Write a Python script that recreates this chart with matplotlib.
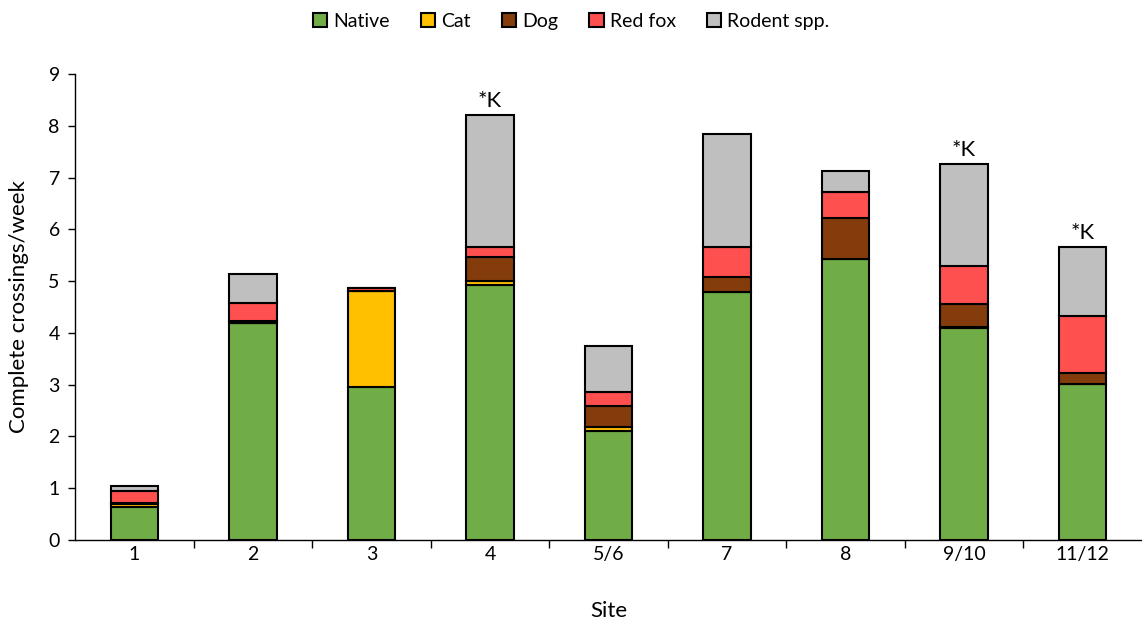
import numpy as np
import matplotlib
matplotlib.use("Agg")
import matplotlib.pyplot as plt
from matplotlib.patches import Patch

plt.rcParams["font.family"] = ["Lato", "DejaVu Sans"]

# ---------- Data ----------
sites = ["1", "2", "3", "4", "5/6", "7", "8", "9/10", "11/12"]
native = [0.64, 4.20, 2.95, 4.93, 2.10, 4.79, 5.42, 4.10, 3.02]
cat = [0.06, 0.00, 1.85, 0.07, 0.09, 0.00, 0.00, 0.02, 0.00]
dog = [0.02, 0.03, 0.00, 0.47, 0.40, 0.29, 0.79, 0.43, 0.21]
red_fox = [0.23, 0.35, 0.06, 0.18, 0.26, 0.57, 0.52, 0.75, 1.09]
rodent = [0.10, 0.55, 0.01, 2.56, 0.90, 2.19, 0.40, 1.96, 1.33]
notes = ["", "", "", "*K", "", "", "", "*K", "*K"]

series = [
    ("Native", native, "#70AD47"),
    ("Cat", cat, "#FFC000"),
    ("Dog", dog, "#843C0C"),
    ("Red fox", red_fox, "#FF5050"),
    ("Rodent spp.", rodent, "#BFBFBF"),
]

# ---------- Plot ----------
fig = plt.figure(figsize=(11.42, 6.21), dpi=100)
ax = fig.add_axes([0.0657, 0.1304, 0.9343, 0.7504])

x = np.arange(len(sites))
bottom = np.zeros(len(sites))
for name, vals, color in series:
    vals = np.array(vals)
    ax.bar(x, vals, width=0.4, bottom=bottom, color=color,
           edgecolor="black", linewidth=1.5, label=name, zorder=3)
    bottom += vals

for xi, total, note in zip(x, bottom, notes):
    if note:
        ax.text(xi, total + 0.08, note, ha="center", va="bottom", fontsize=16)

ax.set_xlim(-0.5, 8.5)
ax.set_ylim(0, 9)
ax.set_yticks(range(10))
ax.tick_params(axis="y", labelsize=14, direction="out", length=5, width=1,
               pad=6)

ax.set_xticks(x)
ax.set_xticklabels(sites, fontsize=14)
ax.tick_params(axis="x", which="major", length=0, pad=4)
ax.set_xticks(np.arange(0.5, 8.5, 1), minor=True)
ax.tick_params(axis="x", which="minor", direction="out", length=6, width=1)

for side in ["top", "right"]:
    ax.spines[side].set_visible(False)
ax.spines["left"].set_linewidth(1)
ax.spines["bottom"].set_linewidth(1)

ax.set_xlabel("Site", fontsize=16, labelpad=28)
ax.set_ylabel("Complete crossings/week", fontsize=16, labelpad=14)

handles = [Patch(facecolor=c, edgecolor="black", linewidth=1.5, label=n)
           for n, _, c in series]
fig.legend(handles=handles, loc="upper center", bbox_to_anchor=(0.5, 1.007),
           ncol=5, frameon=False, fontsize=14, handlelength=0.75,
           handleheight=0.75, handletextpad=0.3, columnspacing=1.6)

fig.savefig("out.png", dpi=100)
plt.close(fig)
